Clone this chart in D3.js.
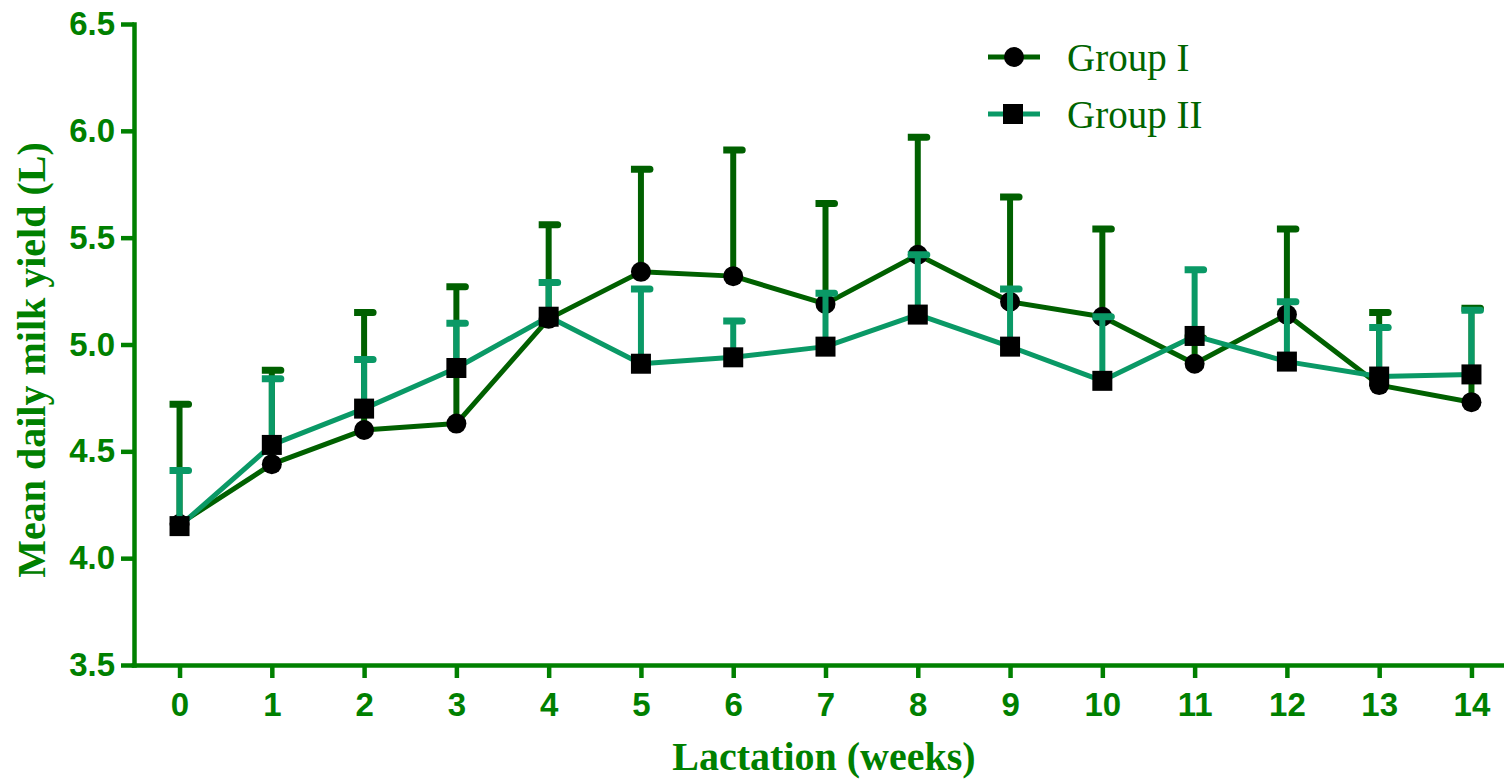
<!DOCTYPE html>
<html>
<head>
<meta charset="utf-8">
<script src="https://cdn.jsdelivr.net/npm/d3@7/dist/d3.min.js"></script>
<style>
  html, body { margin: 0; padding: 0; background: #fff; }
  svg { display: block; }
</style>
</head>
<body>
<svg id="chart" width="1504" height="779"></svg>
<script>
// Weekly mean daily milk yield (L) with upper error bar (mean + SD)
const weeks = [0, 1, 2, 3, 4, 5, 6, 7, 8, 9, 10, 11, 12, 13, 14];
const group1Mean = [4.16, 4.44, 4.60, 4.63, 5.12, 5.34, 5.32, 5.19, 5.42, 5.20, 5.13, 4.91, 5.14, 4.81, 4.73];
const group1Upper = [4.72, 4.88, 5.15, 5.27, 5.56, 5.82, 5.91, 5.66, 5.97, 5.69, 5.54, 5.03, 5.54, 5.15, 5.17];
const group2Mean = [4.15, 4.53, 4.70, 4.89, 5.13, 4.91, 4.94, 4.99, 5.14, 4.99, 4.83, 5.04, 4.92, 4.85, 4.86];
const group2Upper = [4.41, 4.84, 4.93, 5.10, 5.29, 5.26, 5.11, 5.24, 5.42, 5.26, 5.13, 5.35, 5.20, 5.08, 5.16];
const yTicks = [3.5, 4.0, 4.5, 5.0, 5.5, 6.0, 6.5];
const seriesNames = ["Group I", "Group II"];

const axisColor = "#008000";
const g1Color = "#006000";
const g2Color = "#0a9966";

const svg = d3.select("#chart");

const x = d3.scaleLinear().domain([-0.5, 14.5]).range([133.4, 1517.6]);
const y = d3.scaleLinear().domain([3.5, 6.5]).range([665, 24]);

// Axes
const xAxis = d3.axisBottom(x).tickValues(weeks).tickFormat(d3.format("d"))
  .tickSizeInner(13).tickSizeOuter(0).tickPadding(15);
const yAxis = d3.axisLeft(y).tickValues(yTicks).tickFormat(d3.format(".1f"))
  .tickSizeInner(13).tickSizeOuter(0).tickPadding(6);

function styleAxis(g) {
  g.select(".domain").attr("stroke", axisColor).attr("stroke-width", 4.5).attr("stroke-linecap", "square");
  g.selectAll(".tick line").attr("stroke", axisColor).attr("stroke-width", 4.5);
  g.selectAll(".tick text")
    .attr("fill", axisColor)
    .style("font-family", "'Liberation Sans', Arial, sans-serif")
    .style("font-weight", "bold")
    .style("font-size", "33px");
}

svg.append("g").attr("transform", "translate(0,665)").call(xAxis).call(styleAxis);
svg.append("g").attr("transform", "translate(134,0)").call(yAxis).call(styleAxis);

// Axis titles
svg.append("text")
  .attr("x", 824).attr("y", 770)
  .attr("text-anchor", "middle")
  .attr("fill", axisColor)
  .style("font-family", "'Liberation Serif', 'Times New Roman', serif")
  .style("font-weight", "bold")
  .style("font-size", "40px")
  .text("Lactation (weeks)");

svg.append("text")
  .attr("transform", "translate(45,360) rotate(-90)")
  .attr("text-anchor", "middle")
  .attr("fill", axisColor)
  .style("font-family", "'Liberation Serif', 'Times New Roman', serif")
  .style("font-weight", "bold")
  .style("font-size", "40px")
  .text("Mean daily milk yield (L)");

// Cap shape: square on the left, rounded on the right
function capPath(cx, cy) {
  const h = 3.5;
  return `M${cx - 10},${cy - h}H${cx + 9}A${h},${h} 0 0 1 ${cx + 9},${cy + h}H${cx - 10}Z`;
}

const line = d3.line().x(d => x(d.w)).y(d => y(d.v));

function drawSeries(means, uppers, color, marker) {
  const data = weeks.map((w, i) => ({ w, v: means[i], u: uppers[i] }));
  const g = svg.append("g");
  g.append("path").datum(data)
    .attr("d", line)
    .attr("fill", "none")
    .attr("stroke", color)
    .attr("stroke-width", 5)
    .attr("stroke-linejoin", "round");
  // error bar stems
  g.selectAll("line.stem").data(data).join("line")
    .attr("class", "stem")
    .attr("x1", d => x(d.w)).attr("x2", d => x(d.w))
    .attr("y1", d => y(d.v)).attr("y2", d => y(d.u))
    .attr("stroke", color).attr("stroke-width", 6);
  // error bar caps
  g.selectAll("path.cap").data(data).join("path")
    .attr("class", "cap")
    .attr("d", d => capPath(x(d.w), y(d.u)))
    .attr("fill", color);
  // markers
  if (marker === "circle") {
    g.selectAll("circle").data(data).join("circle")
      .attr("cx", d => x(d.w)).attr("cy", d => y(d.v)).attr("r", 10)
      .attr("fill", "#000");
  } else {
    g.selectAll("rect").data(data).join("rect")
      .attr("x", d => x(d.w) - 10).attr("y", d => y(d.v) - 10)
      .attr("width", 20).attr("height", 20)
      .attr("fill", "#000");
  }
}

drawSeries(group1Mean, group1Upper, g1Color, "circle");
drawSeries(group2Mean, group2Upper, g2Color, "square");

// Legend
const legend = svg.append("g");
const legendRows = [
  { name: seriesNames[0], color: g1Color, marker: "circle", y: 57 },
  { name: seriesNames[1], color: g2Color, marker: "square", y: 114 }
];
legendRows.forEach(r => {
  legend.append("line")
    .attr("x1", 988).attr("x2", 1040).attr("y1", r.y).attr("y2", r.y)
    .attr("stroke", r.color).attr("stroke-width", 5);
  if (r.marker === "circle") {
    legend.append("circle").attr("cx", 1014).attr("cy", r.y).attr("r", 10).attr("fill", "#000");
  } else {
    legend.append("rect").attr("x", 1003).attr("y", r.y - 10).attr("width", 20).attr("height", 20).attr("fill", "#000");
  }
  legend.append("text")
    .attr("x", 1067).attr("y", r.y + 14)
    .attr("fill", "#006400")
    .style("font-family", "'Liberation Serif', 'Times New Roman', serif")
    .style("font-size", "39px")
    .text(r.name);
});
</script>
</body>
</html>
